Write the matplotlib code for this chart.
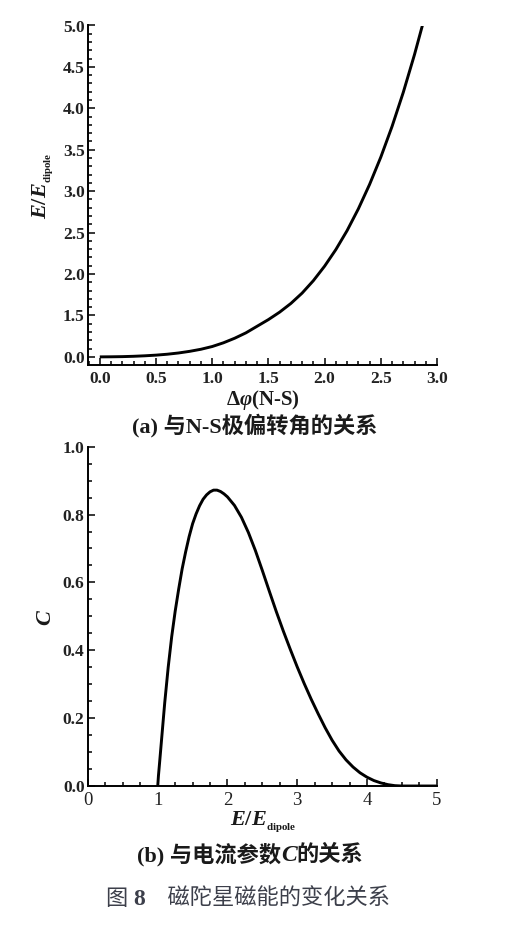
import matplotlib
matplotlib.use('Agg')
import matplotlib.pyplot as plt
from matplotlib.ticker import MultipleLocator, FixedLocator, FixedFormatter, FormatStrFormatter

plt.rcParams['mathtext.fontset'] = 'custom'
plt.rcParams['mathtext.rm'] = 'Liberation Serif:bold'
plt.rcParams['mathtext.it'] = 'Liberation Serif:italic:bold'
plt.rcParams['mathtext.bf'] = 'Liberation Serif:bold'

# ---- data panel (a): energy ratio vs N-S twist angle ----
delta_phi = [0.0, 0.1, 0.2, 0.3, 0.4, 0.5, 0.6, 0.7, 0.8, 0.9, 1.0, 1.1, 1.2,
             1.3, 1.4, 1.5, 1.6, 1.7, 1.8, 1.9, 2.0, 2.1, 2.2, 2.3, 2.4, 2.5,
             2.6, 2.7, 2.8, 2.87]
energy_ratio = [1.0, 1.001, 1.003, 1.007, 1.013, 1.021, 1.032, 1.047, 1.067,
                1.092, 1.125, 1.17, 1.225, 1.29, 1.37, 1.45, 1.54, 1.645,
                1.77, 1.92, 2.095, 2.295, 2.524, 2.786, 3.081, 3.411, 3.781,
                4.193, 4.650, 5.0]
# y tick values and the labels printed on the reference axis
a_yticks = [1.0, 1.5, 2.0, 2.5, 3.0, 3.5, 4.0, 4.5, 5.0]
a_ylabels = ['0.0', '1.5', '2.0', '2.5', '3.0', '3.5', '4.0', '4.5', '5.0']

# ---- data panel (b): current parameter C vs E/E_dipole ----
e_over_edip = [1.0, 1.01, 1.025, 1.05, 1.075, 1.1, 1.15, 1.2, 1.25, 1.3, 1.35,
               1.4, 1.45, 1.5, 1.55, 1.6, 1.65, 1.7, 1.75, 1.8, 1.85, 1.9,
               1.95, 2.0, 2.1, 2.2, 2.3, 2.4, 2.5, 2.6, 2.7, 2.8, 2.9, 3.0,
               3.1, 3.2, 3.3, 3.4, 3.5, 3.6, 3.7, 3.8, 3.9, 4.0, 4.1, 4.2,
               4.3, 4.4, 4.5, 5.0]
c_param = [0.0, 0.03, 0.065, 0.125, 0.185, 0.245, 0.35, 0.44, 0.515, 0.58,
           0.64, 0.69, 0.735, 0.773, 0.802, 0.826, 0.845, 0.858, 0.867, 0.872,
           0.872, 0.868, 0.861, 0.852, 0.827, 0.792, 0.747, 0.694, 0.635,
           0.574, 0.514, 0.457, 0.403, 0.351, 0.302, 0.256, 0.213, 0.172,
           0.135, 0.103, 0.077, 0.056, 0.039, 0.026, 0.016, 0.009, 0.004,
           0.001, 0.0, 0.0]

W, H = 508, 938
fig = plt.figure(figsize=(W / 100, H / 100), dpi=100)
fig.patch.set_facecolor('white')

serif = 'Liberation Serif'
cjk = ['Liberation Serif', 'Noto Sans CJK SC']


def style_axes(ax, fs=12.5):
    for s in ['top', 'right']:
        ax.spines[s].set_visible(False)
    for s in ['left', 'bottom']:
        ax.spines[s].set_linewidth(1.4)
    ax.tick_params(which='both', direction='in', top=False, right=False,
                   width=1.1, colors='black')
    ax.tick_params(which='major', length=5)
    ax.tick_params(which='minor', length=3)
    ax.tick_params(axis='x', which='major', pad=4.5)
    ax.tick_params(axis='y', which='major', pad=2.5)
    for lab in ax.get_xticklabels() + ax.get_yticklabels():
        lab.set_fontfamily(serif)
        lab.set_fontsize(fs)
        lab.set_fontweight('bold')
        lab.set_color('#222222')


# ---- panel (a) ----
ax1 = fig.add_axes([88 / W, 1 - 364.5 / H, 349 / W, 339 / H])
ax1.plot(delta_phi, energy_ratio, color='black', lw=2.1, solid_capstyle='butt')
ax1.set_xlim(-0.105, 3.0)
ax1.set_ylim(0.908, 5.0)
ax1.xaxis.set_major_locator(MultipleLocator(0.5))
ax1.xaxis.set_minor_locator(MultipleLocator(0.1))
ax1.xaxis.set_major_formatter(FormatStrFormatter('%.1f'))
ax1.yaxis.set_major_locator(FixedLocator(a_yticks))
ax1.yaxis.set_major_formatter(FixedFormatter(a_ylabels))
ax1.yaxis.set_minor_locator(MultipleLocator(0.1))
style_axes(ax1)

# ---- panel (b) ----
ax2 = fig.add_axes([88 / W, 1 - 786 / H, 348.7 / W, 339.3 / H])
ax2.plot(e_over_edip, c_param, color='black', lw=2.1, solid_capstyle='butt')
ax2.set_xlim(0, 5)
ax2.set_ylim(0, 1.0)
ax2.xaxis.set_major_locator(MultipleLocator(1))
ax2.xaxis.set_minor_locator(MultipleLocator(0.25))
ax2.yaxis.set_major_locator(MultipleLocator(0.2))
ax2.yaxis.set_minor_locator(MultipleLocator(0.05))
ax2.xaxis.set_major_formatter(FormatStrFormatter('%d'))
ax2.yaxis.set_major_formatter(FormatStrFormatter('%.1f'))
style_axes(ax2)
for lab in ax2.get_xticklabels():
    lab.set_fontweight('normal')
    lab.set_fontsize(13.5)


def ftext(x, y, s, **kw):
    return fig.text(x / W, 1 - y / H, s, **kw)


lab_kw = dict(family=serif, fontweight='bold', color='#1a1a1a')
# axis labels
ftext(43, 186, r'$E/E_{_{\mathrm{dipole}}}$', rotation=90, ha='center',
      va='center', fontsize=16, **lab_kw)
ftext(263, 400, r'$\Delta\varphi$(N-S)', ha='center', va='center',
      fontsize=15, **lab_kw)
ftext(46, 617, r'$C$', rotation=90, ha='center', va='center', fontsize=16,
      **lab_kw)
ftext(263, 822, r'$E/E_{_{\mathrm{dipole}}}$', ha='center', va='center',
      fontsize=16, **lab_kw)


def rich(xc, ybase, pieces):
    r = fig.canvas.get_renderer()
    texts = [fig.text(0, 0, s, va='baseline', ha='left', **kw) for s, kw in pieces]
    widths = [t.get_window_extent(r).width for t in texts]
    x = xc - sum(widths) / 2
    for t, w in zip(texts, widths):
        t.set_position((x / W, 1 - ybase / H))
        x += w


cap_kw = dict(family=cjk, fontsize=16, fontweight='bold', color='#1a1a1a')
rich(255, 432, [('(a) 与N-S极偏转角的关系', cap_kw)])
rich(250, 861, [('(b) 与电流参数', cap_kw),
                ('C', dict(family=serif, fontsize=17, fontweight='bold',
                           style='italic', color='#1a1a1a')),
                ('的关系', cap_kw)])

bot_kw = dict(family=cjk, fontsize=16, color='#3c3f4a')
rich(248, 905, [('图 ', bot_kw),
                ('8', dict(family=serif, fontsize=17, fontweight='bold',
                           color='#3c3f4a')),
                ('    磁陀星磁能的变化关系', bot_kw)])

fig.savefig('out.png', dpi=100, facecolor='white')
